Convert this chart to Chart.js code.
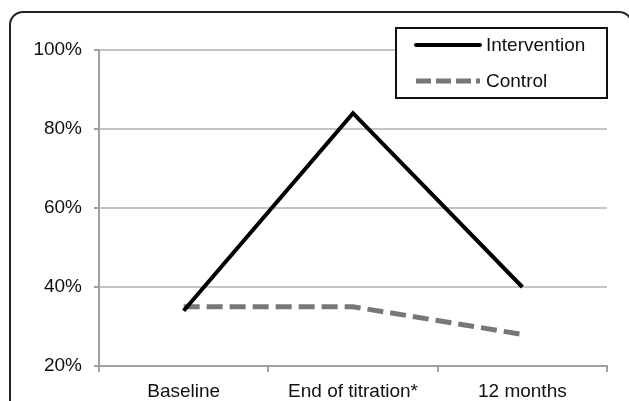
<!DOCTYPE html>
<html>
<head>
<meta charset="utf-8">
<script src="https://cdn.jsdelivr.net/npm/chart.js@4"></script>
<style>
  html, body { margin: 0; padding: 0; background: #fff; overflow: hidden; }
  #wrap { position: relative; width: 629px; height: 401px; overflow: hidden; }
  #frame { position: absolute; left: 9px; top: 11px; width: 624px; height: 420px;
           border: 2px solid #222; border-radius: 14px; box-sizing: border-box; }
  canvas { position: absolute; left: 0; top: 0; }
</style>
</head>
<body>
<div id="wrap">
  <div id="frame"></div>
  <canvas id="c" width="629" height="401"></canvas>
</div>
<script>
const categories = ["Baseline", "End of titration*", "12 months"];
const interventionValues = [34, 84, 40];
const controlValues = [35, 35, 28];
const yTicks = [20, 40, 60, 80, 100];

const FONT = "'Liberation Sans', Arial, sans-serif";

const boxLegend = {
  id: 'boxLegend',
  afterDraw(chart) {
    const ctx = chart.ctx;
    const x0 = 396, y0 = 28, w = 211, h = 70;
    ctx.save();
    ctx.fillStyle = '#fff';
    ctx.fillRect(x0, y0, w, h);
    ctx.strokeStyle = '#111';
    ctx.lineWidth = 2;
    ctx.strokeRect(x0, y0, w, h);
    const rows = [45, 81];
    chart.data.datasets.forEach((ds, i) => {
      const y = rows[i];
      ctx.beginPath();
      ctx.strokeStyle = ds.borderColor;
      ctx.lineWidth = ds.borderWidth;
      ctx.lineCap = i === 0 ? 'round' : 'butt';
      ctx.setLineDash(i === 0 ? [] : [15, 5]);
      ctx.moveTo(416, y);
      ctx.lineTo(480, y);
      ctx.stroke();
      ctx.setLineDash([]);
      ctx.fillStyle = '#111';
      ctx.font = '19px ' + FONT;
      ctx.textBaseline = 'middle';
      ctx.textAlign = 'left';
      ctx.fillText(ds.label, 486, y + 1);
    });
    ctx.restore();
  }
};

new Chart(document.getElementById('c'), {
  type: 'line',
  data: {
    labels: categories,
    datasets: [
      {
        label: 'Intervention',
        data: interventionValues,
        borderColor: '#000',
        borderWidth: 4,
        pointRadius: 0,
        borderJoinStyle: 'miter',
        borderCapStyle: 'butt',
        tension: 0,
        fill: false
      },
      {
        label: 'Control',
        data: controlValues,
        borderColor: '#777',
        borderWidth: 5,
        borderDash: [16, 7],
        pointRadius: 0,
        borderJoinStyle: 'miter',
        tension: 0,
        fill: false
      }
    ]
  },
  options: {
    responsive: false,
    animation: false,
    devicePixelRatio: 1,
    layout: { padding: { left: 0, right: 22, top: 50, bottom: 0 } },
    plugins: { legend: { display: false }, tooltip: { enabled: false } },
    scales: {
      x: {
        offset: true,
        grid: { display: true, drawOnChartArea: false, drawTicks: true, offset: true,
                tickLength: 6, color: '#a0a0a0', lineWidth: 2 },
        border: { display: true, color: '#a0a0a0', width: 2 },
        ticks: { color: '#111', font: { family: FONT, size: 19 }, padding: 8, maxRotation: 0 },
        afterFit(s) { s.height = 35; }
      },
      y: {
        min: 20, max: 100,
        afterBuildTicks(s) { s.ticks = yTicks.map(v => ({ value: v })); },
        grid: { color: '#c4c4c4', lineWidth: 2, tickLength: 5, tickColor: '#a0a0a0' },
        border: { display: true, color: '#a0a0a0', width: 2 },
        ticks: { color: '#111', font: { family: FONT, size: 19 }, padding: 12,
                 callback: v => v + '%' },
        afterFit(s) { s.width = 99; }
      }
    }
  },
  plugins: [boxLegend]
});
</script>
</body>
</html>
